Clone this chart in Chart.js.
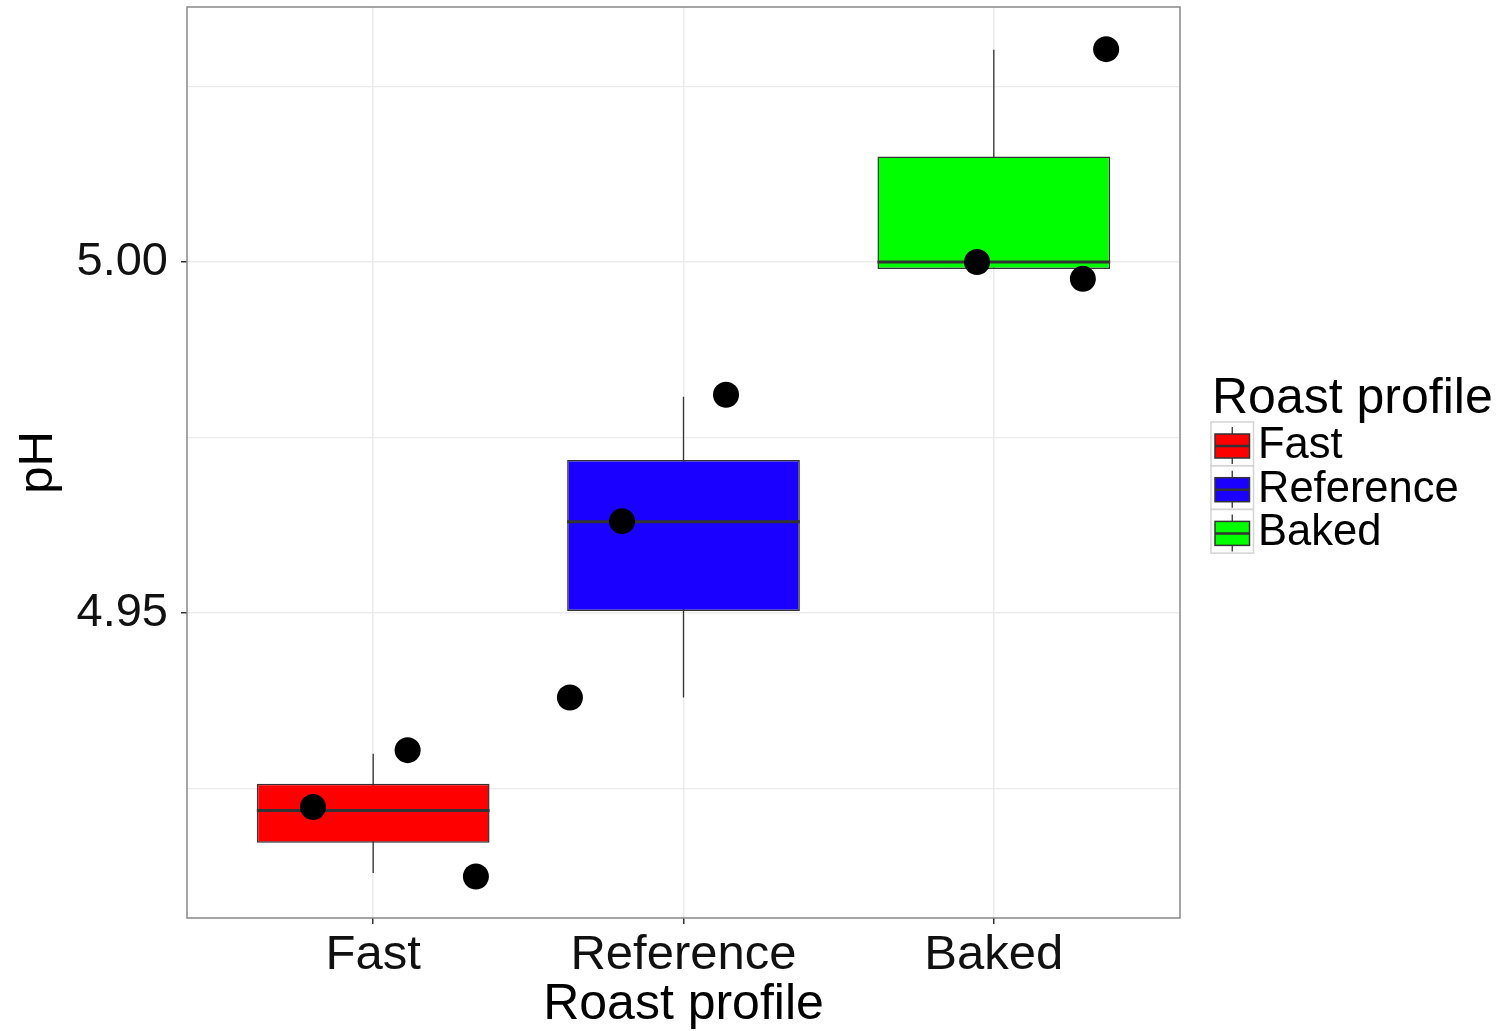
<!DOCTYPE html>
<html><head><meta charset="utf-8">
<script src="https://cdn.jsdelivr.net/npm/chart.js@4"></script>
<style>html,body{margin:0;padding:0;background:#fff;overflow:hidden}</style>
</head><body>
<canvas id="c" width="1501" height="1031"></canvas>
<script>
// ---- data ----
const categories = ['Fast', 'Reference', 'Baked'];
const boxColors = ['#FF0000', '#1A00FF', '#00FF00'];
const q1 = [4.9173, 4.9503, 4.9990];
const q3 = [4.9257, 4.9718, 5.0150];
const medians = [4.9219, 4.9630, 5.0000];
const whiskerLow = [4.9130, 4.9380, 4.9990];
const whiskerHigh = [4.9300, 4.9808, 5.0302];
const pointGroup = [1, 1, 1, 2, 2, 2, 3, 3, 3];
const pointJitter = [-0.194, 0.111, 0.331, -0.198, 0.137, -0.366, -0.054, 0.287, 0.362];
const pointValues = [4.9224, 4.9305, 4.9125, 4.9631, 4.9811, 4.9380, 5.0000, 4.9976, 5.0303];
const yMajorTicks = [4.95, 5.00];
const yMinorTicks = [4.925, 4.975, 5.025];
const yRange = [4.9066, 5.0363];
const xRange = [0.4, 3.6];
const xTitle = 'Roast profile';
const yTitle = 'pH';
const legendTitle = 'Roast profile';

const FONT = '"Liberation Sans", Arial, sans-serif';
const BOX_HALF = 0.375;

const whiskerData = [];
categories.forEach((c, i) => {
  whiskerData.push({x: i + 1, y: whiskerLow[i]}, {x: i + 1, y: whiskerHigh[i]}, {x: i + 1, y: null});
});
const medianData = [];
categories.forEach((c, i) => {
  medianData.push({x: i + 1 - BOX_HALF, y: medians[i]}, {x: i + 1 + BOX_HALF, y: medians[i]}, {x: i + 1 + BOX_HALF, y: null});
});
const boxData = categories.map((c, i) => ({x: i + 1, y: [q1[i], q3[i]]}));
const pointData = pointValues.map((v, i) => ({x: pointGroup[i] + pointJitter[i], y: v}));

const panelBorder = {
  id: 'panelBorder',
  afterDraw(chart) {
    const {ctx, chartArea: a} = chart;
    ctx.save();
    ctx.strokeStyle = '#888888';
    ctx.lineWidth = 1.5;
    ctx.strokeRect(a.left, a.top, a.right - a.left, a.bottom - a.top);
    ctx.restore();
  }
};

const ggLegend = {
  id: 'ggLegend',
  afterDraw(chart) {
    const {ctx, chartArea: a} = chart;
    const x0 = a.right + 31;
    const keyW = 42.5, keyH = 43.7, firstTop = 422;
    ctx.save();
    ctx.fillStyle = '#000';
    ctx.textBaseline = 'alphabetic';
    ctx.textAlign = 'left';
    ctx.font = '50px ' + FONT;
    ctx.fillText(legendTitle, x0 + 1, 413);
    categories.forEach((c, i) => {
      const top = firstTop + i * keyH;
      const cx = x0 + keyW / 2;
      ctx.strokeStyle = '#D4D4D4';
      ctx.lineWidth = 1.5;
      ctx.strokeRect(x0, top, keyW, keyH);
      ctx.strokeStyle = '#333333';
      ctx.lineWidth = 1.3;
      ctx.beginPath();
      ctx.moveTo(cx, top + 5); ctx.lineTo(cx, top + 12);
      ctx.moveTo(cx, top + 36); ctx.lineTo(cx, top + 42);
      ctx.stroke();
      ctx.fillStyle = boxColors[i];
      ctx.fillRect(x0 + 4, top + 12, keyW - 8, 24);
      ctx.lineWidth = 1.5;
      ctx.strokeRect(x0 + 4, top + 12, keyW - 8, 24);
      ctx.lineWidth = 2.5;
      ctx.beginPath();
      ctx.moveTo(x0 + 4, top + 24); ctx.lineTo(x0 + keyW - 4, top + 24);
      ctx.stroke();
      ctx.fillStyle = '#000';
      ctx.font = '43.5px ' + FONT;
      ctx.textBaseline = 'middle';
      ctx.fillText(c, x0 + 47, top + keyH / 2 + 2);
      ctx.textBaseline = 'alphabetic';
    });
    ctx.restore();
  }
};

new Chart(document.getElementById('c'), {
  type: 'bar',
  data: {
    datasets: [
      {type: 'line', data: whiskerData, borderColor: '#333333', borderWidth: 1.3, pointRadius: 0, spanGaps: false, fill: false, order: 4},
      {type: 'bar', data: boxData, backgroundColor: boxColors, borderColor: '#333333', borderWidth: 1.5, borderSkipped: false, barPercentage: 0.75, categoryPercentage: 1, order: 3},
      {type: 'line', data: medianData, borderColor: '#333333', borderWidth: 3, borderCapStyle: 'butt', pointRadius: 0, spanGaps: false, fill: false, order: 2},
      {type: 'scatter', data: pointData, backgroundColor: '#000000', borderWidth: 0, pointRadius: 13, pointHoverRadius: 13, order: 1}
    ]
  },
  options: {
    responsive: false,
    devicePixelRatio: 1,
    animation: false,
    layout: {autoPadding: false, padding: {left: 0, right: 321, top: 7, bottom: 0}},
    plugins: {legend: {display: false}, tooltip: {enabled: false}},
    scales: {
      x: {
        type: 'linear', offset: false, min: xRange[0], max: xRange[1],
        afterBuildTicks: s => { s.ticks = categories.map((c, i) => ({value: i + 1})); },
        afterFit: s => { s.height = 113; s.paddingLeft = 0; s.paddingRight = 0; },
        border: {display: false},
        grid: {offset: false, color: '#EBEBEB', lineWidth: 1.5, tickColor: '#333333', tickLength: 6, tickWidth: 1.5},
        ticks: {font: {family: FONT, size: 49, lineHeight: 1}, color: '#111', padding: 7, maxRotation: 0, autoSkip: false,
          callback: v => categories[Math.round(v) - 1]},
        title: {display: true, text: xTitle, font: {family: FONT, size: 50, lineHeight: 1.0}, color: '#000', padding: {top: 0, bottom: 1}}
      },
      y: {
        type: 'linear', min: yRange[0], max: yRange[1],
        afterBuildTicks: s => { s.ticks = [...yMinorTicks, ...yMajorTicks].sort((a, b) => a - b).map(v => ({value: v})); },
        afterFit: s => { s.width = 187; s.paddingTop = 0; s.paddingBottom = 0; },
        border: {display: false},
        grid: {
          color: '#EBEBEB',
          lineWidth: c => (c.tick && yMajorTicks.includes(c.tick.value)) ? 1.5 : 1.2,
          tickColor: c => (c.tick && yMajorTicks.includes(c.tick.value)) ? '#333333' : 'rgba(0,0,0,0)',
          tickLength: 6, tickWidth: 1.5
        },
        ticks: {font: {family: FONT, size: 47}, color: '#111', padding: 13,
          callback: v => yMajorTicks.includes(v) ? v.toFixed(2) : ''},
        title: {display: true, text: yTitle, font: {family: FONT, size: 49, lineHeight: 1.2}, color: '#000', padding: {top: 9, bottom: 0}}
      }
    }
  },
  plugins: [panelBorder, ggLegend]
});
</script>
</body></html>
